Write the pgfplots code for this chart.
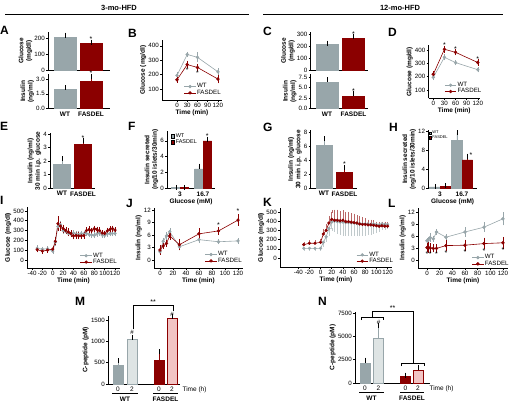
\documentclass[border=0pt]{standalone}
\usepackage{pgfplots}
\pgfplotsset{compat=1.18}
\usepackage{fontspec}
\setmainfont{Liberation Sans}
\definecolor{wtg}{RGB}{152,166,170}
\definecolor{fsr}{RGB}{139,0,0}
\definecolor{wtlt}{RGB}{222,228,228}
\definecolor{fslt}{RGB}{242,196,196}
\newcommand{\tk}{\fontsize{6.2}{7}\selectfont}
\newcommand{\lb}{\fontsize{6.5}{7.5}\selectfont\bfseries}
\newcommand{\st}{\fontsize{7}{7}\selectfont}
\newcommand{\pl}{\fontsize{12}{13}\selectfont\bfseries}
\pgfplotsset{
 pr/.style={scale only axis, anchor=south west, clip=false,
   axis x line*=bottom, axis y line*=left,
   axis line style={-, line width=0.5pt, black},
   tick align=outside, major tick length=2pt,
   every tick/.style={black, line width=0.5pt},
   tick label style={font=\tk, inner sep=1pt},
   label style={font=\lb},
   ylabel style={align=center, inner sep=1pt},
   xlabel style={inner sep=1pt},
   /pgf/number format/assume math mode=true,
   /pgf/number format/1000 sep={},
   scaled ticks=false,
   legend style={draw=none, fill=none, font=\tk, inner sep=0pt, row sep=-1.5pt, nodes={inner sep=1pt}},
   legend cell align=left,
 },
 bars/.style={pr, xtick style={draw=none}, xticklabel style={font=\lb}},
 bwt/.style={ybar, bar shift=0pt, fill=wtg, draw=wtg, error bars/y dir=plus, error bars/y explicit, error bars/error bar style={line width=0.5pt}, error bars/error mark options={mark size=2.5pt, line width=0.5pt}},
 bfs/.style={ybar, bar shift=0pt, fill=fsr, draw=fsr, error bars/y dir=plus, error bars/y explicit, error bars/error bar style={line width=0.5pt}, error bars/error mark options={mark size=2.5pt, line width=0.5pt}},
 lwt/.style={color=wtg, mark=*, mark size=1.4pt, line width=0.6pt, error bars/y dir=both, error bars/y explicit, error bars/error bar style={line width=0.5pt}, error bars/error mark options={mark size=1.5pt}},
 lfs/.style={color=fsr, mark=*, mark size=1.4pt, line width=0.6pt, error bars/y dir=both, error bars/y explicit, error bars/error bar style={line width=0.5pt}, error bars/error mark options={mark size=1.5pt}},
 lleg/.style={legend image code/.code={\draw[mark repeat=2,mark phase=2,##1] plot coordinates {(0cm,0cm) (0.2cm,0cm) (0.4cm,0cm)};}},
 bleg/.style={legend image code/.code={\draw[##1, draw=black, line width=0.3pt] (0cm,-0.06cm) rectangle (0.12cm,0.06cm);}},
 sleg/.style={legend image code/.code={\draw[##1, draw=black, line width=0.3pt] (0cm,-0.045cm) rectangle (0.09cm,0.045cm);}},
}
\begin{document}
\begin{tikzpicture}
\path[use as bounding box] (0pt,0pt) rectangle (511pt,404pt);
% titles
\node[font=\bfseries\fontsize{7.5}{8}\selectfont] at (119pt,396.5pt) {3-mo-HFD};
\draw[line width=0.6pt] (5pt,390pt) -- (249pt,390pt);
\node[font=\bfseries\fontsize{7.5}{8}\selectfont] at (400pt,396.5pt) {12-mo-HFD};
\draw[line width=0.6pt] (263pt,390pt) -- (503pt,390pt);
% panel letters
\foreach \lt/\xx/\yy in {A/0/26,B/128/29,C/263/27,D/388/28,E/0/122,F/128/122,G/263/123,H/389/123,I/0/196,J/126/199,K/263/198,L/388/199,M/75/297,N/318/297}
  {\node[font=\pl, anchor=north west, inner sep=0pt] at (\xx pt,404pt-\yy pt) {\lt};}

% ---------- A ----------
\begin{axis}[bars, at={(48pt,334pt)}, width=62pt, height=38pt, xmin=48, xmax=110, ymin=0, ymax=237, ytick={0,100,200}, xtick=\empty, ylabel={Glucose\\(mg/dl)}]
\addplot[bwt, bar width=22] coordinates {(65,205) +- (0,12)};
\addplot[bfs, bar width=22] coordinates {(91,168) +- (0,6)};
\node[font=\st] at (axis cs:91,190) {*};
\end{axis}
\begin{axis}[bars, at={(48pt,295.3pt)}, width=62pt, height=34.7pt, xmin=48, xmax=110, ymin=0, ymax=3.5, ytick={0,1.5,3}, yticklabel style={/pgf/number format/.cd, fixed, fixed zerofill, precision=1}, xtick={65,91}, xticklabels={WT,FASDEL}, ylabel={Insulin\\(ng/ml)}]
\addplot[bwt, bar width=22] coordinates {(65,1.93) +- (0,0.2)};
\addplot[bfs, bar width=22] coordinates {(91,2.8) +- (0,0.45)};
\node[font=\st] at (axis cs:91,3.6) {*};
\end{axis}

% ---------- B ----------
\begin{axis}[pr, lleg, at={(162pt,304pt)}, width=60pt, height=60pt, xmin=-44, xmax=132, ymin=25, ymax=440, xtick={0,30,60,90,120}, ytick={100,200,300,400}, xlabel={Time (min)}, ylabel={Glucose (mg/dl)}, legend style={at={(1,0.05)}, anchor=south east}]
\addplot[lwt] coordinates {(0,195) +- (0,10) (30,340) +- (0,8) (60,320) +- (0,25) (120,220) +- (0,15)};
\addlegendentry{WT}
\addplot[lfs] coordinates {(0,165) +- (0,10) (30,270) +- (0,15) (60,250) +- (0,15) (120,170) +- (0,20)};
\addlegendentry{FASDEL}
\node[font=\st] at (axis cs:30,232) {*};
\node[font=\st] at (axis cs:60,212) {*};
\end{axis}

% ---------- C ----------
\begin{axis}[bars, at={(310.5pt,334pt)}, width=57pt, height=38pt, xmin=310.5, xmax=367.5, ymin=0, ymax=317, ytick={0,100,200,300}, xtick=\empty, ylabel={Glucose\\(mg/dl)}]
\addplot[bwt, bar width=22] coordinates {(327,217) +- (0,7)};
\addplot[bfs, bar width=22] coordinates {(353.5,262) +- (0,20)};
\node[font=\st] at (axis cs:353.5,300) {*};
\end{axis}
\begin{axis}[bars, at={(310.5pt,295.3pt)}, width=57pt, height=34.7pt, xmin=310.5, xmax=367.5, ymin=0, ymax=8.28, ytick={0,2.5,5,7.5}, yticklabel style={/pgf/number format/.cd, fixed, fixed zerofill, precision=1}, xtick={327,353.5}, xticklabels={WT,FASDEL}, ylabel={Insulin\\(ng/ml)}]
\addplot[bwt, bar width=22] coordinates {(327,6.25) +- (0,0.62)};
\addplot[bfs, bar width=22] coordinates {(353.5,3.1) +- (0,0.6)};
\node[font=\st] at (axis cs:353.5,4.3) {*};
\end{axis}

% ---------- D ----------
\begin{axis}[pr, lleg, at={(428.5pt,305.7pt)}, width=51.5pt, height=53.3pt, xmin=-13, xmax=126, ymin=38, ymax=437, xtick={0,30,60,90,120}, ytick={100,200,300,400}, xlabel={Time (min)}, ylabel={Glucose (mg/dl)}, legend style={at={(1.05,0.05)}, anchor=south east}]
\addplot[lwt] coordinates {(0,195) +- (0,10) (30,345) +- (0,12) (60,305) +- (0,10) (120,252) +- (0,8)};
\addlegendentry{WT}
\addplot[lfs] coordinates {(0,218) +- (0,10) (30,405) +- (0,15) (60,382) +- (0,12) (120,306) +- (0,12)};
\addlegendentry{FASDEL}
\node[font=\st] at (axis cs:30,433) {*};
\node[font=\st] at (axis cs:60,405) {*};
\node[font=\st] at (axis cs:120,330) {*};
\end{axis}

% ---------- E ----------
\begin{axis}[bars, at={(50pt,215.7pt)}, width=45pt, height=55pt, xmin=50, xmax=95, ymin=0, ymax=4.05, ytick={0,1,2,3,4}, xtick={62,83}, xticklabels={WT,FASDEL}, ylabel={Insulin (ng/ml)\\30 min i.p. glucose}]
\addplot[bwt, bar width=17] coordinates {(62,1.78) +- (0,0.38)};
\addplot[bfs, bar width=17] coordinates {(83,3.22) +- (0,0.28)};
\node[font=\st] at (axis cs:83,3.72) {*};
\end{axis}

% ---------- F ----------
\begin{axis}[bars, bleg, at={(167pt,215.7pt)}, width=48pt, height=57pt, xmin=167, xmax=215, ymin=0, ymax=7.2, ytick={0,2,4,6}, xtick={180,203}, xticklabels={3,16.7}, xlabel={Glucose (mM)}, ylabel={Insulin secreted\\(ng/10 islets/30min)}, legend style={at={(0.08,0.98)}, anchor=north west, font=\fontsize{5.5}{6}\selectfont}]
\addplot[bwt, bar width=8.5] coordinates {(175.75,0.1) +- (0,0.03) (198.75,2.45) +- (0,0.35)};
\addlegendentry{WT}
\addplot[bfs, bar width=8.5] coordinates {(184.25,0.1) +- (0,0.03) (207.25,6.0) +- (0,0.2)};
\addlegendentry{FASDEL}
\node[font=\st] at (axis cs:207.25,6.55) {*};
\end{axis}

% ---------- G ----------
\begin{axis}[bars, at={(310.5pt,215.7pt)}, width=46pt, height=58pt, xmin=310.5, xmax=356.5, ymin=0, ymax=8.3, ytick={0,2,4,6,8}, xtick={324,344.5}, xticklabels={WT,FASDEL}, ylabel={Insulin (ng/ml)\\30 min i.p. glucose}]
\addplot[bwt, bar width=16] coordinates {(324,6.1) +- (0,1.0)};
\addplot[bfs, bar width=16] coordinates {(344.5,2.37) +- (0,0.55)};
\node[font=\st] at (axis cs:344.5,3.4) {*};
\end{axis}

% ---------- H ----------
\begin{axis}[bars, sleg, at={(428.3pt,215.7pt)}, width=48.7pt, height=58.3pt, xmin=428.3, xmax=477, ymin=0, ymax=12.35, ytick={0,4,8,12}, xtick={440,462}, xticklabels={3,16.7}, xlabel={Glucose (mM)}, ylabel={Insulin secreted\\(ng/10 islets/30min)}, legend style={at={(0.0,1.0)}, anchor=north west, font=\fontsize{4}{4.5}\selectfont, row sep=-2pt}]
\addplot[bwt, bar width=10.5] coordinates {(434.75,0.3) +- (0,0.05) (456.75,10.2) +- (0,1.6)};
\addlegendentry{WT}
\addplot[bfs, bar width=10.5] coordinates {(445.25,0.45) +- (0,0.05) (467.25,6.0) +- (0,0.8)};
\addlegendentry{FASDEL}
\node[font=\st] at (axis cs:471,7.1) {*};
\end{axis}

% ---------- I ----------
\begin{axis}[pr, lleg, at={(27pt,136pt)}, width=93pt, height=61pt, xmin=-49.6, xmax=129.6, ymin=-82, ymax=540, xtick={-40,-20,0,20,40,60,80,100,120}, ytick={0,100,200,300,400,500}, xlabel={Time (min)}, ylabel={Glucose (mg/dl)}, legend style={at={(0.98,0.03)}, anchor=south east}]
\addplot[lwt, mark size=1.3pt] coordinates {(-30,120)+-(0,15) (-20,110)+-(0,10) (-10,115)+-(0,12) (0,90)+-(0,10) (5,180)+-(0,20) (10,340)+-(0,30) (15,360)+-(0,25) (20,300)+-(0,20) (25,290)+-(0,15) (30,270)+-(0,15) (35,265)+-(0,15) (40,275)+-(0,15) (45,265)+-(0,15) (50,260)+-(0,15) (55,270)+-(0,15) (60,265)+-(0,15) (65,270)+-(0,15) (70,260)+-(0,15) (75,255)+-(0,15) (80,250)+-(0,15) (85,265)+-(0,15) (90,275)+-(0,15) (95,255)+-(0,15) (100,250)+-(0,15) (105,265)+-(0,15) (110,270)+-(0,15) (115,270)+-(0,15) (120,270)+-(0,15)};
\addlegendentry{WT}
\addplot[lfs, mark size=1.3pt] coordinates {(-30,105)+-(0,12) (-20,90)+-(0,10) (-10,100)+-(0,12) (0,110)+-(0,15) (5,190)+-(0,25) (10,370)+-(0,60) (15,345)+-(0,30) (20,320)+-(0,25) (25,300)+-(0,20) (30,285)+-(0,25) (35,270)+-(0,20) (40,245)+-(0,20) (45,250)+-(0,20) (50,245)+-(0,20) (55,245)+-(0,15) (60,250)+-(0,20) (65,300)+-(0,20) (70,310)+-(0,20) (75,300)+-(0,15) (80,320)+-(0,15) (85,310)+-(0,15) (90,300)+-(0,20) (95,275)+-(0,15) (100,270)+-(0,15) (105,295)+-(0,20) (110,310)+-(0,20) (115,320)+-(0,15) (120,305)+-(0,15)};
\addlegendentry{FASDEL}
\end{axis}

% ---------- J ----------
\begin{axis}[pr, lleg, at={(154pt,136pt)}, width=89pt, height=60pt, xmin=-9.2, xmax=127.7, ymin=-1.9, ymax=12.5, xtick={0,20,40,60,80,100,120}, ytick={0,3,6,9,12}, xlabel={Time (min)}, ylabel={Insulin (ng/ml)}, legend style={at={(1,0.05)}, anchor=south east}]
\addplot[lwt] coordinates {(0,2.0)+-(0,0.4) (5,4.5)+-(0,0.5) (10,5.8)+-(0,0.6) (15,6.8)+-(0,0.5) (30,3.2)+-(0,0.5) (60,4.9)+-(0,0.5) (90,4.4)+-(0,0.3) (120,4.6)+-(0,0.3)};
\addlegendentry{WT}
\addplot[lfs] coordinates {(0,2.4)+-(0,0.8) (5,3.4)+-(0,0.4) (10,4.0)+-(0,0.5) (15,5.8)+-(0,0.6) (30,3.7)+-(0,1.0) (60,6.3)+-(0,1.0) (90,7.0)+-(0,0.6) (120,9.6)+-(0,1.0)};
\addlegendentry{FASDEL}
\node[font=\st] at (axis cs:90,8.4) {*};
\node[font=\st] at (axis cs:120,11.8) {*};
\end{axis}

% ---------- K ----------
\begin{axis}[pr, lleg, at={(280pt,137pt)}, width=112pt, height=59pt, xmin=-72.7, xmax=128, ymin=-98, ymax=543, xtick={-40,-20,0,20,40,60,80,100,120}, ytick={0,100,200,300,400,500}, xlabel={Time (min)}, ylabel={Glucose (mg/dl)}, legend style={at={(1.02,0.03)}, anchor=south east}]
\addplot[lwt, mark size=1.3pt, error bars/y dir=minus, error bars/error bar style={wtg!60}] coordinates {(-30,105)+-(0,10) (-20,105)+-(0,10) (-10,105)+-(0,10) (0,105)+-(0,10) (5,170)+-(0,30) (10,230)+-(0,40) (15,320)+-(0,60) (20,390)+-(0,80) (25,400)+-(0,100) (30,395)+-(0,120) (35,390)+-(0,120) (40,390)+-(0,130) (45,385)+-(0,130) (50,385)+-(0,130) (55,380)+-(0,130) (60,380)+-(0,120) (65,375)+-(0,120) (70,375)+-(0,120) (75,370)+-(0,110) (80,370)+-(0,110) (85,370)+-(0,100) (90,365)+-(0,100) (95,370)+-(0,90) (100,365)+-(0,80) (105,360)+-(0,60) (110,370)+-(0,50) (115,365)+-(0,40) (120,365)+-(0,30)};
\addlegendentry{WT}
\addplot[lfs, mark size=1.3pt, error bars/y dir=plus, error bars/error bar style={fsr!60}] coordinates {(-30,145)+-(0,15) (-20,160)+-(0,15) (-10,160)+-(0,15) (0,170)+-(0,20) (5,260)+-(0,40) (10,300)+-(0,50) (15,380)+-(0,60) (20,420)+-(0,80) (25,410)+-(0,100) (30,410)+-(0,100) (35,405)+-(0,90) (40,410)+-(0,90) (45,395)+-(0,90) (50,395)+-(0,90) (55,390)+-(0,80) (60,385)+-(0,80) (65,380)+-(0,70) (70,370)+-(0,70) (75,365)+-(0,60) (80,365)+-(0,50) (85,360)+-(0,40) (90,360)+-(0,40) (95,355)+-(0,40) (100,350)+-(0,30) (105,345)+-(0,30) (110,350)+-(0,30) (115,345)+-(0,30) (120,345)+-(0,30)};
\addlegendentry{FASDEL}
\end{axis}

% ---------- L ----------
\begin{axis}[pr, lleg, at={(418pt,136pt)}, width=90pt, height=60pt, xmin=-14.2, xmax=128, ymin=-2, ymax=13, xtick={0,20,40,60,80,100,120}, ytick={0,3,6,9,12}, xlabel={Time (min)}, ylabel={Insulin (ng/ml)}, legend style={at={(1.02,0.0)}, anchor=south east}]
\addplot[lwt] coordinates {(0,4.8)+-(0,0.3) (2,5.0)+-(0,0.4) (5,5.6)+-(0,0.8) (10,5.3)+-(0,0.4) (15,7.0)+-(0,0.3) (30,5.7)+-(0,0.3) (60,7.0)+-(0,0.8) (90,8.2)+-(0,0.8) (120,10.3)+-(0,1.3)};
\addlegendentry{WT}
\addplot[lfs] coordinates {(0,3.1)+-(0,0.8) (2,3.2)+-(0,1.0) (5,3.0)+-(0,0.8) (10,2.9)+-(0,0.6) (15,2.9)+-(0,0.7) (30,3.6)+-(0,1.1) (60,3.7)+-(0,1.0) (90,4.1)+-(0,1.1) (120,4.3)+-(0,1.1)};
\addlegendentry{FASDEL}
\node[font=\st] at (axis cs:0,1.4) {*};
\node[font=\st] at (axis cs:5,1.4) {*};
\node[font=\st] at (axis cs:15,1.5) {*};
\node[font=\st] at (axis cs:30,1.8) {*};
\node[font=\st] at (axis cs:60,2.0) {*};
\node[font=\st] at (axis cs:90,2.3) {*};
\node[font=\st] at (axis cs:120,2.5) {*};
\end{axis}

% ---------- M ----------
\begin{axis}[pr, at={(108pt,20pt)}, width=72pt, height=68pt, xmin=108, xmax=180, ymin=0, ymax=1593, ytick={0,500,1000,1500}, xtick={118,132,159,172}, xticklabels={0,2,0,2}, xtick style={draw=none}, xticklabel style={font=\fontsize{6.5}{7}\selectfont}, ylabel={C-peptide (pM)}]
\addplot[bwt, bar width=10] coordinates {(118,445) +- (0,100)};
\addplot[bwt, fill=wtlt, bar width=10] coordinates {(132,1050) +- (0,45)};
\addplot[bfs, bar width=10] coordinates {(159,565) +- (0,190)};
\addplot[bfs, fill=fslt, bar width=10] coordinates {(172,1540) +- (0,40)};
\node[font=\tk] at (axis cs:132,1200) {\#};
\node[font=\tk] at (axis cs:172,1640) {\#};
\draw[line width=0.5pt] (axis cs:133,1300) -- (axis cs:133,1850) -- (axis cs:173,1850) -- (axis cs:173,1720);
\node[font=\st, anchor=south, inner sep=0.5pt] at (axis cs:153,1850) {**};
\node[font=\fontsize{6.5}{7}\selectfont, anchor=west, yshift=-5.5pt] at (axis cs:179,0) {Time (h)};
\draw[line width=0.5pt] ([yshift=-9.5pt]axis cs:112,0) -- ([yshift=-9.5pt]axis cs:138,0);
\draw[line width=0.5pt] ([yshift=-9.5pt]axis cs:153,0) -- ([yshift=-9.5pt]axis cs:178,0);
\node[font=\lb, yshift=-15pt] at (axis cs:125,0) {WT};
\node[font=\lb, yshift=-15pt] at (axis cs:165.5,0) {FASDEL};
\end{axis}

% ---------- N ----------
\begin{axis}[pr, at={(355pt,21pt)}, width=75pt, height=71pt, xmin=355, xmax=430, ymin=0, ymax=7610, ytick={0,2500,5000,7500}, xtick={365,378.5,405.5,418}, xticklabels={0,2,0,2}, xtick style={draw=none}, xticklabel style={font=\fontsize{6.5}{7}\selectfont}, ylabel={C-peptide (pM)}]
\addplot[bwt, bar width=10] coordinates {(365,2100) +- (0,360)};
\addplot[bwt, fill=wtlt, bar width=10] coordinates {(378.5,4790) +- (0,1320)};
\addplot[bfs, bar width=10] coordinates {(405.5,750) +- (0,100)};
\addplot[bfs, fill=fslt, bar width=10] coordinates {(418,1390) +- (0,250)};
\node[font=\tk] at (axis cs:378.5,6480) {\#};
\draw[line width=0.5pt] (axis cs:361,6750) -- (axis cs:361,7074) -- (axis cs:383,7074) -- (axis cs:383,6750);
\draw[line width=0.5pt] (axis cs:372,7074) -- (axis cs:372,7717) -- (axis cs:413,7717) -- (axis cs:413,2144);
\draw[line width=0.5pt] (axis cs:401,1820) -- (axis cs:401,2144) -- (axis cs:424,2144) -- (axis cs:424,1820);
\node[font=\st, anchor=south, inner sep=0.5pt] at (axis cs:392.5,7717) {**};
\node[font=\fontsize{6.5}{7}\selectfont, anchor=west, yshift=-5.5pt] at (axis cs:426,0) {Time (h)};
\draw[line width=0.5pt] ([yshift=-9.5pt]axis cs:359,0) -- ([yshift=-9.5pt]axis cs:384,0);
\draw[line width=0.5pt] ([yshift=-9.5pt]axis cs:400,0) -- ([yshift=-9.5pt]axis cs:424,0);
\node[font=\lb, yshift=-15pt] at (axis cs:371.5,0) {WT};
\node[font=\lb, yshift=-15pt] at (axis cs:412,0) {FASDEL};
\end{axis}
\end{tikzpicture}
\end{document}
